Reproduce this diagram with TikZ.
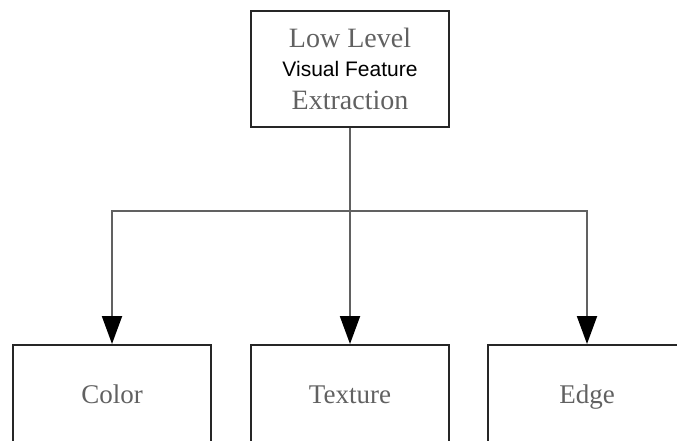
\documentclass[tikz,border=0pt]{standalone}
\usepackage{fontspec}
\setmainfont{Liberation Serif}
\newfontfamily\visfont{Liberation Sans}
\usetikzlibrary{arrows.meta}

\begin{document}
\begin{tikzpicture}[x=1pt, y=1pt,
    box/.style={draw=black!85, line width=2pt, inner sep=0pt, text=black!62,
        font=\fontsize{27}{29}\selectfont, minimum width=198pt, minimum height=100pt},
    link/.style={draw=black!62, line width=2pt},
    >={Triangle[length=28pt, width=20pt, color=black]}]
    \clip (0,0) rectangle (677,-440);

    % Feature extraction box
    \node[box, minimum height=116pt, align=center, font=\fontsize{28}{29}\selectfont] (feat) at (350,-69)
        {Low Level\\{\fontsize{21}{29}\visfont\color{black}Visual Feature}\\[4pt]Extraction};

    % Feature kinds
    \node[box, text height=19pt, text depth=3pt] (color) at (112,-395) {Color};
    \node[box, text height=19pt, text depth=3pt] (texture) at (350,-395) {Texture};
    \node[box, text height=19pt, text depth=3pt] (edge) at (587,-395) {Edge};

    % Branches
    \coordinate (split) at (350,-211);
    \draw[link, ->] (feat.south) -- (texture.north);
    \draw[link, ->] (split) -| (color.north);
    \draw[link, ->] (split) -| (edge.north);
\end{tikzpicture}
\end{document}
